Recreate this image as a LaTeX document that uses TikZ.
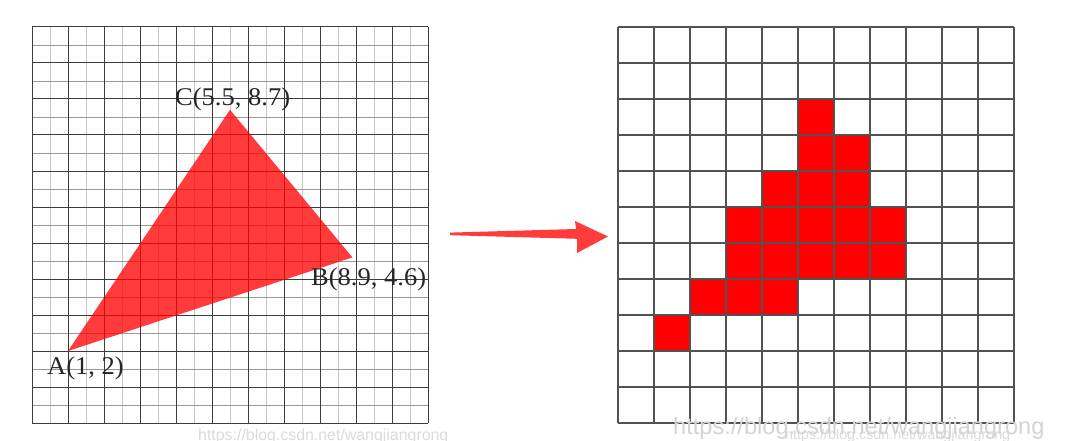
\documentclass[tikz,border=0pt]{standalone}
\usepackage{fontspec}
\setmainfont{Liberation Serif}
\newfontfamily\lblfont[FakeStretch=1.04]{Liberation Serif}
\newfontfamily\wmfont{Liberation Sans}
\definecolor{tricol}{RGB}{255,60,60}
\definecolor{majcol}{RGB}{60,60,60}
\tikzset{
  majorline/.style={draw=majcol,line width=1pt},
  minorv/.style={draw=black!22,line width=0.9pt},
  minorh/.style={draw=black!40,line width=0.9pt},
  rgridline/.style={draw=black!68,line width=1.1pt},
  pix/.style={fill=red},
  tri/.style={fill=red,fill opacity=0.77},
  lbl/.style={inner sep=0pt,anchor=base west,font=\lblfont\fontsize{25.5}{30}\selectfont,text=black!85},
  wmark/.style={inner sep=0pt,anchor=base west,text=black!14}
}
\begin{document}
\begin{tikzpicture}[x=1pt,y=-1pt]
\useasboundingbox[fill=white] (0,0) rectangle (1065,441);
% left grid
\begin{scope}[shift={(32,423)},x=36pt,y=36pt]
  \foreach \i in {0,...,10} \draw[minorv] (\i+0.5,0) -- (\i+0.5,11);
  \foreach \i in {0,...,10} \draw[minorh] (0,\i+0.5) -- (11,\i+0.5);
  \foreach \i in {0,...,11} {
    \draw[majorline] (\i,0) -- (\i,11);
    \draw[majorline] (0,\i) -- (11,\i);
  }
  \coordinate (A) at (1,2);
  \coordinate (B) at (8.9,4.6);
  \coordinate (C) at (5.5,8.7);
  \fill[tri] (A) -- (B) -- (C) -- cycle;
\end{scope}
\node[lbl] (la) at (47,374) {A(1, 2)};
\node[lbl] (lb) at (311,285) {B(8.9, 4.6)};
\node[lbl] (lc) at (175,106) {C(5.5, 8.7)};
% arrow
\fill[tricol] (450,232.6) -- (576,229) -- (575,221) -- (608,236.5) -- (577,253) -- (577,238.8) -- (450,235.2) -- cycle;
% right grid
\begin{scope}[shift={(618,423)},x=36pt,y=36pt]
  \foreach \c/\r in {5/8,5/7,6/7,4/6,5/6,6/6,3/5,4/5,5/5,6/5,7/5,3/4,4/4,5/4,6/4,7/4,2/3,3/3,4/3,1/2}
    \fill[pix] (\c,\r) rectangle ++(1,1);
  \foreach \i in {0,...,11} {
    \draw[rgridline] (\i,0) -- (\i,11);
    \draw[rgridline] (0,\i) -- (11,\i);
  }
\end{scope}
% watermarks
\node[wmark,font=\wmfont\fontsize{15.9}{18}\selectfont] (w1) at (198,440) {https://blog.csdn.net/wangjiangrong};
\node[wmark,font=\wmfont\fontsize{14.3}{17}\selectfont] (w3) at (785,439) {https://blog.csdn.net/wangjiangrong};
\node[wmark,font=\wmfont\fontsize{23.6}{28}\selectfont,text=black!17] (w2) at (673,434) {https://blog.csdn.net/wangjiangrong};
\end{tikzpicture}
\end{document}
